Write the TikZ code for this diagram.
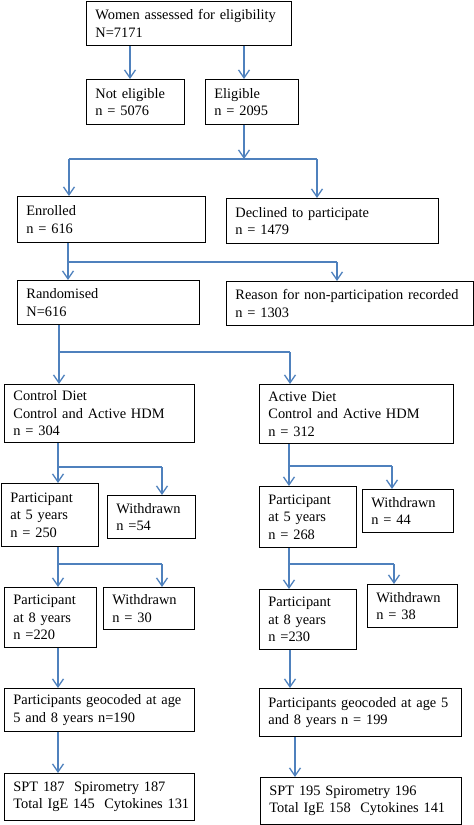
\documentclass[tikz,border=0pt]{standalone}
\usepackage{fontspec}
\setmainfont{Liberation Serif}
\usetikzlibrary{arrows.meta}
\definecolor{arrblue}{RGB}{79,129,189}
\tikzset{
  box/.style={draw=black,line width=0.8pt,align=left,inner xsep=9pt,inner ysep=0pt,
    font=\fontsize{14.4}{17.5}\selectfont,anchor=north west},
  arr/.style={draw=arrblue,line width=1.3pt,-{Straight Barb[length=8pt,width=11pt,line width=1.3pt]}},
  ln/.style={draw=arrblue,line width=1.3pt}
}
\newcommand\bx[6]{%
  \pgfmathsetmacro\bxw{#4-#2}\pgfmathsetmacro\bxh{#5-#3}\pgfmathsetmacro\bxt{#4-#2-18}%
  \node[box,minimum width=\bxw pt,minimum height=\bxh pt,text width=\bxt pt] (#1) at (#2,#3) {#6};}
\begin{document}
\begin{tikzpicture}[x=1pt,y=-1pt]
\useasboundingbox (0,0) rectangle (474,825);
\bx{women}{86}{1}{291}{45}{Women assessed for eligibility\\N=7171}
\bx{notel}{86}{79}{184}{124}{Not eligible\\n = 5076}
\bx{elig}{205}{79}{298}{124}{Eligible\\n = 2095}
\bx{enrol}{17}{196}{205}{242}{Enrolled\\n = 616}
\bx{decl}{226}{198}{438}{243}{Declined to participate\\n = 1479}
\bx{rand}{17}{280}{199}{324}{Randomised\\N=616}
\bx{reason}{226}{281}{473}{325}{\mbox{Reason for non-participation recorded}\\n = 1303}
\bx{ctrl}{4}{384}{194}{442}{Control Diet\\Control and Active HDM\\n = 304}
\bx{act}{259}{384}{453}{443}{Active Diet\\Control and Active HDM\\n = 312}
\bx{p5l}{1}{483}{98}{546}{Participant\\at 5 years\\n = 250}
\bx{w5l}{107}{495}{195}{538}{Withdrawn\\n =54}
\bx{p5r}{259}{486}{356}{547}{Participant\\at 5 years\\n = 268}
\bx{w5r}{362}{489}{453}{532}{Withdrawn\\n = 44}
\bx{p8l}{4}{587}{96}{647}{Participant\\at 8 years\\n =220}
\bx{w8l}{103}{587}{194}{629}{Withdrawn\\n = 30}
\bx{p8r}{259}{589}{356}{649}{Participant\\at 8 years\\n =230}
\bx{w8r}{367}{584}{457}{627}{Withdrawn\\n = 38}
\bx{geol}{4}{688}{194}{731}{\mbox{Participants geocoded at age}\\5 and 8 years n=190}
\bx{geor}{259}{688}{461}{736}{\mbox{Participants geocoded at age 5}\\and 8 years n = 199}
\bx{spl}{4}{773}{194}{820}{\mbox{SPT 187 ~Spirometry 187}\\\mbox{Total IgE 145 ~Cytokines 131}}
\bx{spr}{260}{777}{461}{824}{\mbox{SPT 195 Spirometry 196}\\\mbox{Total IgE 158 ~Cytokines 141}}
% connectors
\draw[arr] (women.south -| 130,0) -- (notel.north -| 130,0);
\draw[arr] (women.south -| 244,0) -- (elig.north -| 244,0);
\coordinate (j1) at (244,159);
\coordinate (j1l) at (69,159);
\coordinate (j1r) at (317,159);
\draw[arr] (elig.south -| j1) -- (j1);
\draw[ln] (j1l) -- (j1r);
\draw[arr] (j1l) -- (enrol.north -| j1l);
\draw[arr] (j1r) -- (decl.north -| j1r);
\coordinate (j2l) at (68,262);
\coordinate (j2r) at (337,262);
\draw[arr] (enrol.south -| j2l) -- (rand.north -| j2l);
\draw[ln] (j2l) -- (j2r);
\draw[arr] (j2r) -- (reason.north -| j2r);
\coordinate (j3l) at (59,352);
\coordinate (j3r) at (290,352);
\draw[arr] (rand.south -| j3l) -- (ctrl.north -| j3l);
\draw[ln] (j3l) -- (j3r);
\draw[arr] (j3r) -- (act.north -| j3r);
\coordinate (j4l) at (58,467);
\coordinate (j4r) at (162,467);
\draw[arr] (ctrl.south -| j4l) -- (p5l.north -| j4l);
\draw[ln] (j4l) -- (j4r);
\draw[arr] (j4r) -- (w5l.north -| j4r);
\coordinate (j5l) at (289,466);
\coordinate (j5r) at (392,466);
\draw[arr] (act.south -| j5l) -- (p5r.north -| j5l);
\draw[ln] (j5l) -- (j5r);
\draw[arr] (j5r) -- (w5r.north -| j5r);
\coordinate (j6l) at (58,564);
\coordinate (j6r) at (162,564);
\draw[arr] (p5l.south -| j6l) -- (p8l.north -| j6l);
\draw[ln] (j6l) -- (j6r);
\draw[arr] (j6r) -- (w8l.north -| j6r);
\coordinate (j7l) at (289,564);
\coordinate (j7r) at (394,564);
\draw[arr] (p5r.south -| j7l) -- (p8r.north -| j7l);
\draw[ln] (j7l) -- (j7r);
\draw[arr] (j7r) -- (w8r.north -| j7r);
\draw[arr] (p8l.south -| 58,0) -- (geol.north -| 58,0);
\draw[arr] (p8r.south -| 290,0) -- (geor.north -| 290,0);
\draw[arr] (geol.south -| 58,0) -- (spl.north -| 58,0);
\draw[arr] (geor.south -| 295,0) -- (spr.north -| 295,0);
\end{tikzpicture}
\end{document}
